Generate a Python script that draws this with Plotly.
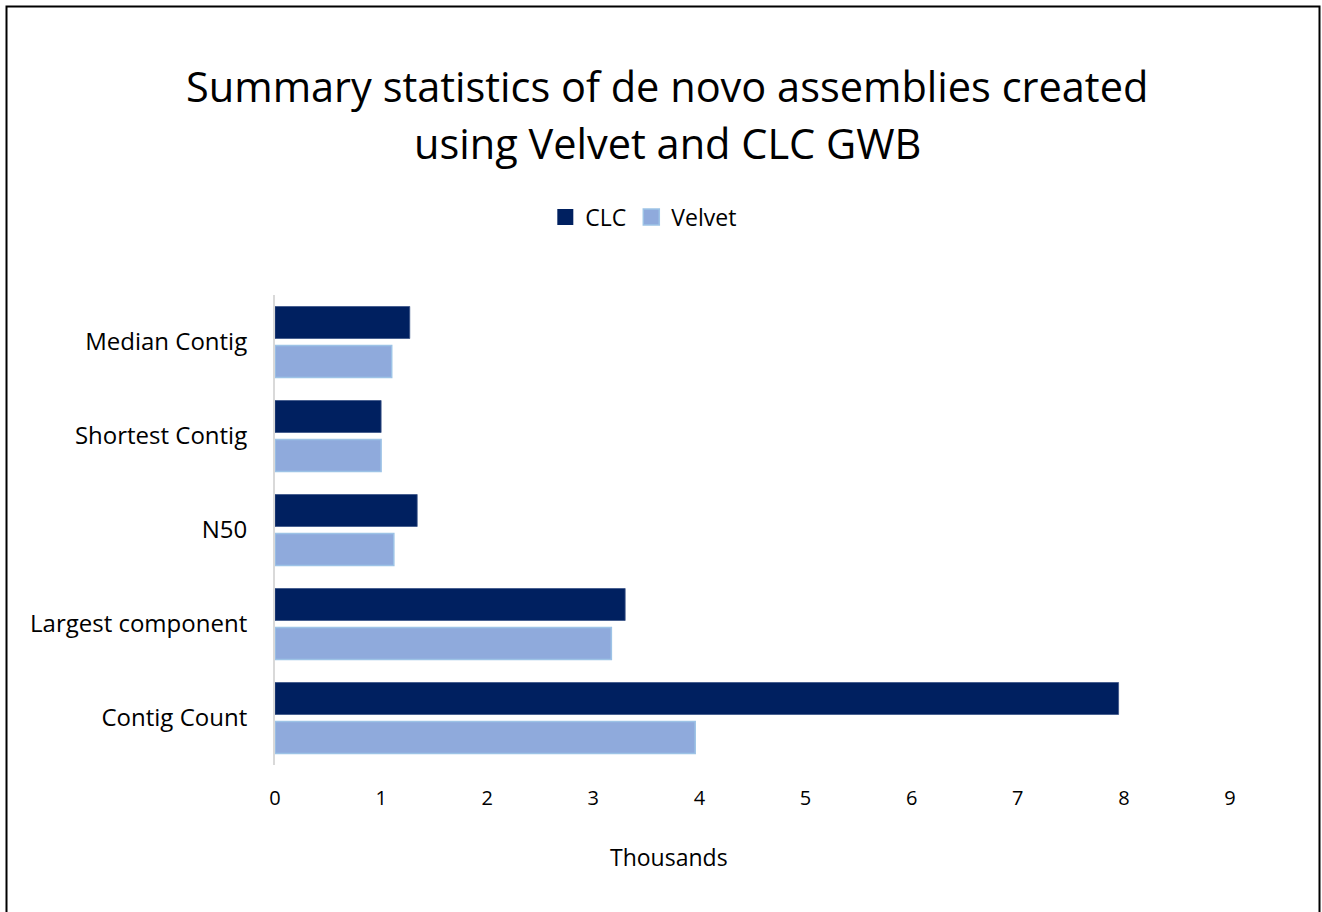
import plotly.graph_objects as go

categories = ["Contig Count", "Largest component", "N50", "Shortest Contig", "Median Contig"]
clc_values = [7.95, 3.30, 1.34, 1.00, 1.27]
velvet_values = [3.96, 3.17, 1.12, 1.00, 1.10]
x_ticks = [0, 1, 2, 3, 4, 5, 6, 7, 8, 9]
title_lines = ["Summary statistics of de novo assemblies created", "using Velvet and CLC GWB"]

FONT = "Open Sans"
CLC_COLOR = "#002060"
VEL_COLOR = "#8FAADC"
VEL_LINE = "#9DC3E6"

# plot-area geometry in pixels
L, R, T, B = 275, 1230, 295, 765
W, H = R - L, B - T

def px_x(x):
    return (x - L) / W

def px_y(y):
    return (B - y) / H

fig = go.Figure()
fig.add_trace(go.Bar(
    y=categories, x=velvet_values, name="Velvet", orientation="h",
    marker=dict(color=VEL_COLOR, line=dict(color=VEL_LINE, width=1.5)),
    showlegend=False,
))
fig.add_trace(go.Bar(
    y=categories, x=clc_values, name="CLC", orientation="h",
    marker=dict(color=CLC_COLOR, line=dict(color="#3B5488", width=0.8)),
    showlegend=False,
))
# legend entries with larger square symbols
fig.add_trace(go.Scatter(
    x=[None], y=[None], mode="markers", name="CLC",
    marker=dict(symbol="square", size=17, color=CLC_COLOR, line=dict(width=0)),
    legendrank=1,
))
fig.add_trace(go.Scatter(
    x=[None], y=[None], mode="markers", name="Velvet",
    marker=dict(symbol="square", size=17, color=VEL_COLOR, line=dict(color=VEL_LINE, width=1.5)),
    legendrank=2,
))

fig.update_layout(
    width=1322, height=912,
    paper_bgcolor="white", plot_bgcolor="white",
    font=dict(family=FONT, color="#000000"),
    barmode="group", bargap=0.17, bargroupgap=0.18,
    margin=dict(l=L, r=1322 - R, t=T, b=912 - B),
    legend=dict(
        orientation="h", x=0.487, xanchor="center", xref="container",
        y=1 - 217 / 912, yanchor="middle", yref="container",
        font=dict(family=FONT, size=23, color="#000000"),
        itemwidth=30, tracegroupgap=0,
    ),
    showlegend=True,
)
fig.update_xaxes(
    range=[0, 9], tickvals=x_ticks, ticktext=[str(t) for t in x_ticks],
    showgrid=False, zeroline=False, showline=False,
    tickfont=dict(family=FONT, size=20, color="#000000"),
    ticks="outside", ticklen=15, tickcolor="rgba(0,0,0,0)",
)
fig.update_yaxes(
    showgrid=False, zeroline=False,
    showline=True, linecolor="#D9D9D9", linewidth=2,
    tickfont=dict(family=FONT, size=24, color="#000000"),
    ticks="outside", ticklen=21, tickcolor="rgba(0,0,0,0)",
    categoryorder="array", categoryarray=categories,
)

for line, yc in zip(title_lines, [86, 143]):
    fig.add_annotation(
        text=line, x=px_x(667), xref="paper", y=px_y(yc), yref="paper",
        showarrow=False, xanchor="center", yanchor="middle",
        font=dict(family=FONT, size=41.5, color="#000000"),
    )

fig.add_annotation(
    text="Thousands", x=px_x(669), xref="paper",
    y=px_y(857), yref="paper", showarrow=False,
    xanchor="center", yanchor="middle",
    font=dict(family=FONT, size=23, color="#000000"),
)

fig.add_shape(
    type="rect", xref="paper", yref="paper",
    x0=px_x(6.5), x1=px_x(1319.5),
    y0=px_y(930), y1=px_y(6.5),
    line=dict(color="#000000", width=2), fillcolor="rgba(0,0,0,0)", layer="below",
)

fig.write_html("out.html")
